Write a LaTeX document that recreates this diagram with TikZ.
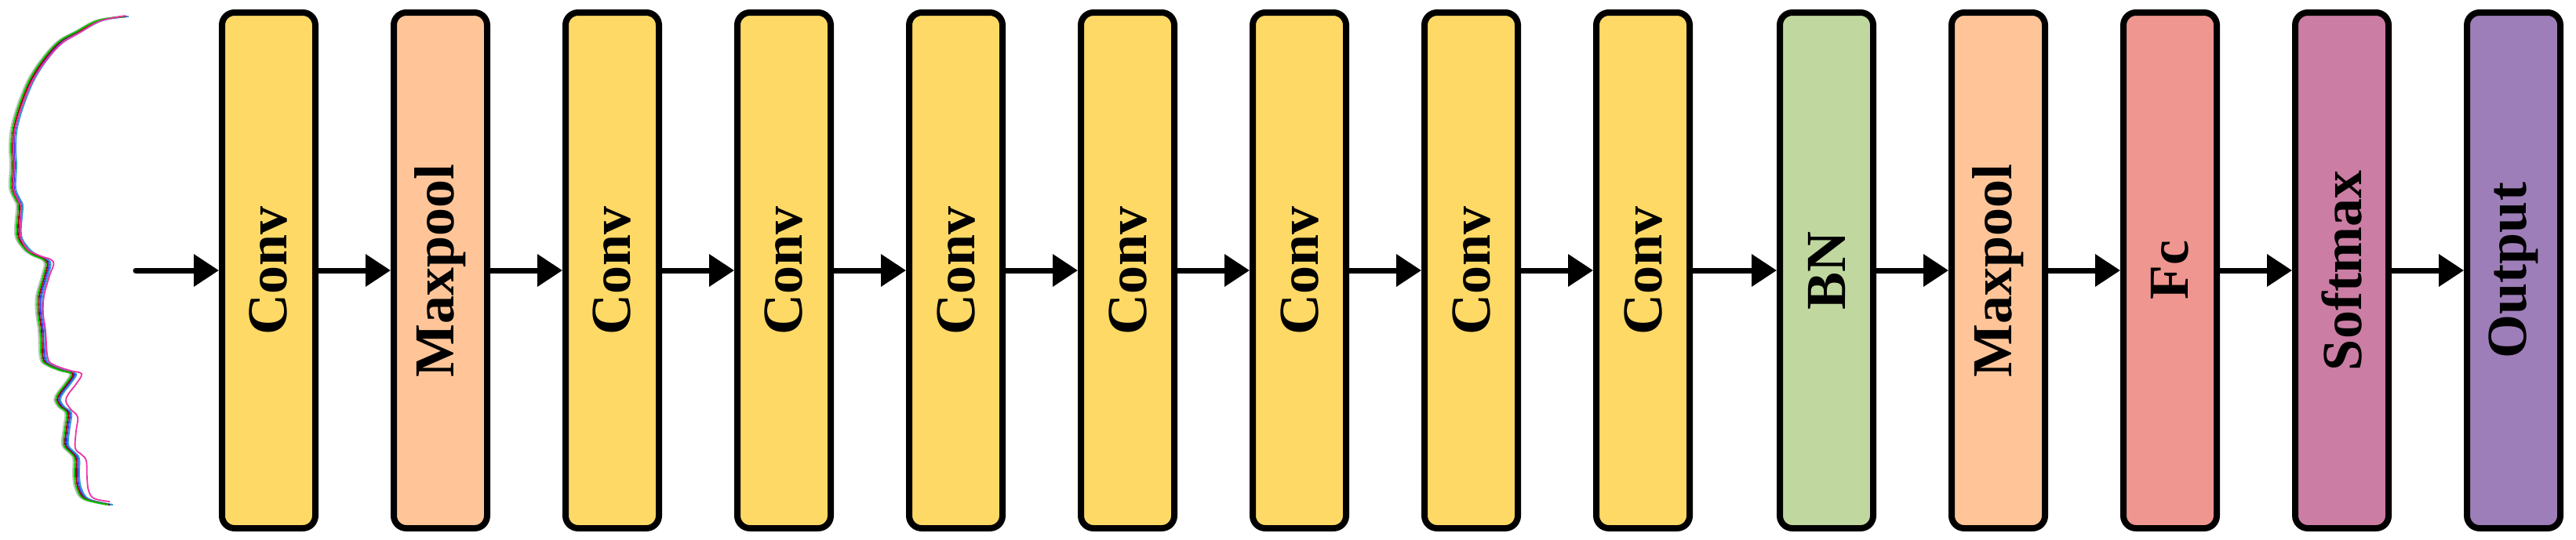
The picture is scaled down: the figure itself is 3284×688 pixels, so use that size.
\documentclass[tikz,border=0pt]{standalone}
\usepackage{fontspec}
\setmainfont{Liberation Serif}
\usetikzlibrary{arrows.meta}
\definecolor{cconv}{HTML}{FFD966}
\definecolor{cpool}{HTML}{FFC599}
\definecolor{cbn}{HTML}{C0D89F}
\definecolor{cfc}{HTML}{EE968F}
\definecolor{csoft}{HTML}{CB7DA3}
\definecolor{cout}{HTML}{9E7EB8}
\tikzset{
  layer/.style={draw=black, line width=2pt, rounded corners=4pt,
    minimum width=29.75pt, minimum height=164.5pt, inner sep=0pt,
    font=\fontsize{18}{18}\selectfont\bfseries},
  lbl/.style={rotate=90},
  conn/.style={line width=1.75pt, -{Triangle[length=8pt,width=10pt]}},
  sig/.style={line width=0.45pt, smooth, tension=0.6},
}
\begin{document}
\begin{tikzpicture}[x=0.25pt, y=-0.25pt]
\useasboundingbox (0,0) rectangle (3284,688);
% signal traces
\def\trace{(160,21) (127,26) (100,40) (77,53) (57,75) (40,101) (27,132) (18,163) (16,189) (17,211) (16,240) (22,255) (25,264) (23,299) (32,316) (43,325) (60,334) (57,352) (50,378) (50,400) (53,422) (55,457) (63,466) (80,473) (93,477) (87,488) (77,501) (73,510) (78,519) (87,527) (85,545) (83,567) (90,576) (97,585) (97,607) (100,624) (110,637) (140,644)}
\begin{scope}[xshift=-1pt]
\draw[sig, draw=gray!50] plot coordinates {\trace};
\end{scope}
\begin{scope}[xshift=0.5pt]
\draw[sig, draw=blue!80] plot coordinates {\trace};
\end{scope}
\begin{scope}[xshift=1pt]
\draw[sig, draw=cyan!80!black] plot coordinates {\trace};
\end{scope}
\begin{scope}[xshift=0pt]
\draw[sig, draw=red!60!black] plot coordinates {\trace};
\end{scope}
\begin{scope}[xshift=-0.5pt]
\draw[sig, draw=green!80!black] plot coordinates {\trace};
\end{scope}
\draw[sig, draw=magenta!80] plot coordinates {(160,20) (127,27) (101,42) (78,56) (58,78) (41,104) (28,135) (19,165) (17,190) (18,212) (17,240) (23,255) (27,266) (26,300) (35,318) (50,326) (68,334) (63,352) (56,378) (55,400) (58,422) (61,457) (70,466) (90,473) (104,477) (97,490) (87,503) (84,512) (90,522) (99,532) (97,550) (96,572) (104,580) (110,588) (111,610) (113,626) (120,636) (140,640)};

% layers
\node[layer, fill=cconv] (b1) at (342.5,345) {\rotatebox{90}{Conv}};
\node[layer, fill=cpool] (b2) at (561.5,345) {\rotatebox{90}{Maxpool}};
\node[layer, fill=cconv] (b3) at (780.5,345) {\rotatebox{90}{Conv}};
\node[layer, fill=cconv] (b4) at (999.5,345) {\rotatebox{90}{Conv}};
\node[layer, fill=cconv] (b5) at (1218.5,345) {\rotatebox{90}{Conv}};
\node[layer, fill=cconv] (b6) at (1437.5,345) {\rotatebox{90}{Conv}};
\node[layer, fill=cconv] (b7) at (1656.5,345) {\rotatebox{90}{Conv}};
\node[layer, fill=cconv] (b8) at (1875.5,345) {\rotatebox{90}{Conv}};
\node[layer, fill=cconv] (b9) at (2094.5,345) {\rotatebox{90}{Conv}};
\node[layer, fill=cbn] (b10) at (2328.5,345) {\rotatebox{90}{BN}};
\node[layer, fill=cpool] (b11) at (2547.5,345) {\rotatebox{90}{Maxpool}};
\node[layer, fill=cfc] (b12) at (2766.5,345) {\rotatebox{90}{Fc}};
\node[layer, fill=csoft] (b13) at (2985.5,345) {\rotatebox{90}{Softmax}};
\node[layer, fill=cout] (b14) at (3204.5,345) {\rotatebox{90}{Output}};

\coordinate (in) at (173,345);
\draw[conn, line cap=round] (in) -- (b1.west);
\foreach \a/\b in {b1/b2,b2/b3,b3/b4,b4/b5,b5/b6,b6/b7,b7/b8,b8/b9,b9/b10,b10/b11,b11/b12,b12/b13,b13/b14}
  \draw[conn] (\a.east) -- (\b.west);
\end{tikzpicture}
\end{document}
